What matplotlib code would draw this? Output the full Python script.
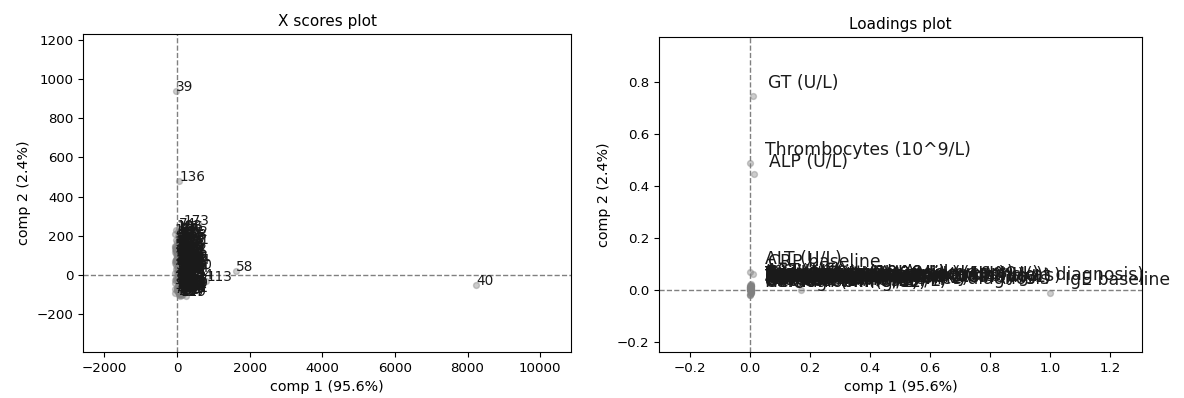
import matplotlib.pyplot as plt

# X scores: sample index -> (comp 1, comp 2)
score_c1 = [35, -12, 88, 140, 22, -40, 61, 115, 8, 74,
            -25, 150, 47, 96, -58, 130, 18, 69, -5, 205,
            84, 41, -33, 122, 57, 176, 12, -48, 101, 66,
            145, -18, 29, 92, 240, 53, -61, 110, 77, -20,
            8230, 33, 160, -27, 81, 4, 128, 59, -44, 98,
            71, 186, -9, 45, 134, 20, -52, 107, 1620, 63,
            25, 158, -36, 87, 50, 119, -14, 72, 230, 39,
            300, 95, -22, 148, 58, 14, 83, -47, 126, 68,
            37, 171, -6, 104, 49, -56, 91, 139, 27, 62,
            113, -30, 76, 195, 44, 10, 168, -41, 85, 55,
            260, 31, 117, -17, 93, 142, 66, -53, 24, 80,
            137, 46, -3, 800, 99, 70, -38, 155, 15, 89,
            52, 183, -26, 78, 121, 36, -59, 102, 64, 9,
            147, -11, 86, 43, 214, 60, 60, -45, 108, 28,
            75, 131, -21, 94, 51, 165, 18, -35, 118, 67,
            39, 152, -8, 82, 279, 57, -50, 97, 30, 124,
            71, -15, 143, 48, 190, 6, 88, -42, 112, 63,
            21, 136, -28, 190, 54, 101, -55, 79, 162, 34]
score_c2 = [45, -62, 110, 12, -88, 30, 175, -20, 65, -95,
            140, -40, 5, 88, -70, 52, 200, -15, 120, -55,
            25, -100, 78, 160, -35, 95, -80, 10, 215, -60,
            60, 130, -25, 40, -105, 185, 70, -45, 100, 940,
            -50, 150, -10, 82, -90, 35, 225, -65, 115, 0,
            -30, 68, 170, -85, 48, -5, 135, -75, 20, 92,
            -48, 18, 105, -98, 58, 190, -22, 75, -60, 145,
            28, -82, 125, 3, 240, -38, 62, -92, 98, 165,
            -12, 38, -70, 118, 208, -42, 85, -102, 15, 72,
            155, -28, 50, -66, 128, 8, -95, 180, -18, 90,
            33, -58, 112, 230, -8, 66, -88, 142, 22, -35,
            80, 195, -72, -30, 55, 16, 120, -52, 88, -108,
            44, 160, -15, 102, -80, 26, 210, -40, 70, 138,
            -62, 95, 10, -90, 58, 178, 480, -25, 36, 110,
            -78, 48, 150, -5, 92, -48, 222, 74, -68, 130,
            6, -86, 108, 38, -20, 168, 62, -100, 140, 24,
            -55, 86, 198, -32, 14, 122, -76, 52, 182, -12,
            100, -44, 68, 255, -94, 30, 148, -60, 78, 42]

# Loadings: variable -> (comp 1, comp 2)
variables = ["GT (U/L)", "Thrombocytes (10^9/L)", "ALP (U/L)", "ALT (U/L)",
             "CRP baseline", "Age at diagnosis", "Bilirubin (umol/L)",
             "Albumin (g/L)", "Hemoglobin (g/dL)", "Leukocytes (10^9/L)",
             "Creatinine (umol/L)", "INR baseline", "IgG (g/L)", "IgM (g/L)",
             "Cholesterol (mmol/L)", "Triglycerides (mmol/L)", "BMI (kg/m2)",
             "Height (cm)", "Sodium (mmol/L)", "Potassium (mmol/L)",
             "Glucose (mmol/L)", "AST (U/L)", "LDH (U/L)", "Calcium (mmol/L)",
             "Urea (mmol/L)", "eGFR (mL/min/1.73m2)", "Eosinophils (10^9/L)",
             "Time since diagnosis (years)", "Symptom duration in months (at diagnosis)",
             "Neutrophils baseline (10^9/L)", "Lymphocytes baseline (10^9/L)",
             "Number of flares since diagnosis", "Smoking status (pack years)",
             "Systolic blood pressure (mmHg)", "Eosinophil cationic protein (ug/L)",
             "Total IgE at diagnosis (kU/L)", "Age at onset of symptoms (years)",
             "Weight (kg)", "IgE baseline"]
load_c1 = [0.01, 0.0, 0.015, 0.0, 0.01, 0.0, 0.002, 0.0, 0.001, 0.003,
           0.0, 0.002, 0.004, 0.0, 0.001, 0.003, 0.0, 0.002, 0.0, 0.001,
           0.002, 0.005, 0.003, 0.0, 0.001, 0.002, 0.004, 0.0, 0.003,
           0.001, 0.0, 0.002, 0.004, 0.001, 0.003, 0.0, 0.002,
           0.17, 1.0]
load_c2 = [0.745, 0.49, 0.445, 0.07, 0.06, 0.01, -0.01, 0.005, -0.02, 0.015,
           0.0, -0.005, 0.02, 0.008, -0.015, 0.012, 0.003, -0.008, 0.018, 0.0,
           -0.012, 0.025, 0.006, -0.018, 0.01, -0.003, 0.015, 0.002, 0.008,
           0.004, 0.012, -0.006, 0.016, 0.009, 0.001, 0.014, 0.005,
           0.0, -0.01]

fig = plt.figure(figsize=(11.84, 3.98), dpi=100)
ax1 = fig.add_axes([0.0701, 0.1156, 0.4122, 0.799])
ax2 = fig.add_axes([0.5566, 0.1156, 0.4079, 0.7915])

# X scores plot
ax1.scatter(score_c1, score_c2, c="grey", s=18, alpha=0.4)
for i, (x, y) in enumerate(zip(score_c1, score_c2)):
    ax1.text(x, y, str(i), fontsize=9.8, color="#1a1a1a")
ax1.axhline(0, color="grey", ls="--", lw=1)
ax1.axvline(0, color="grey", ls="--", lw=1)
ax1.set_xlim(-2590, 10850)
ax1.set_ylim(-393, 1230)
ax1.set_xticks([-2000, 0, 2000, 4000, 6000, 8000, 10000])
ax1.set_yticks([-200, 0, 200, 400, 600, 800, 1000, 1200])
ax1.set_title("X scores plot", fontsize=11)
ax1.set_xlabel("comp 1 (95.6%)", fontsize=10.3)
ax1.set_ylabel("comp 2 (2.4%)", fontsize=10.3)
ax1.tick_params(labelsize=9.6)

# Loadings plot
ax2.scatter(load_c1, load_c2, c="grey", s=18, alpha=0.4)
for name, x, y in zip(variables, load_c1, load_c2):
    ax2.text(x + 0.05, y + 0.03, name, fontsize=12.4, color="#1a1a1a")
ax2.axhline(0, color="grey", ls="--", lw=1)
ax2.axvline(0, color="grey", ls="--", lw=1)
ax2.set_xlim(-0.303, 1.307)
ax2.set_ylim(-0.238, 0.973)
ax2.set_xticks([-0.2, 0.0, 0.2, 0.4, 0.6, 0.8, 1.0, 1.2])
ax2.set_yticks([-0.2, 0.0, 0.2, 0.4, 0.6, 0.8])
ax2.set_title("Loadings plot", fontsize=11)
ax2.set_xlabel("comp 1 (95.6%)", fontsize=10.3)
ax2.set_ylabel("comp 2 (2.4%)", fontsize=10.3)
ax2.tick_params(labelsize=9.6)

fig.savefig("out.png", dpi=100)
